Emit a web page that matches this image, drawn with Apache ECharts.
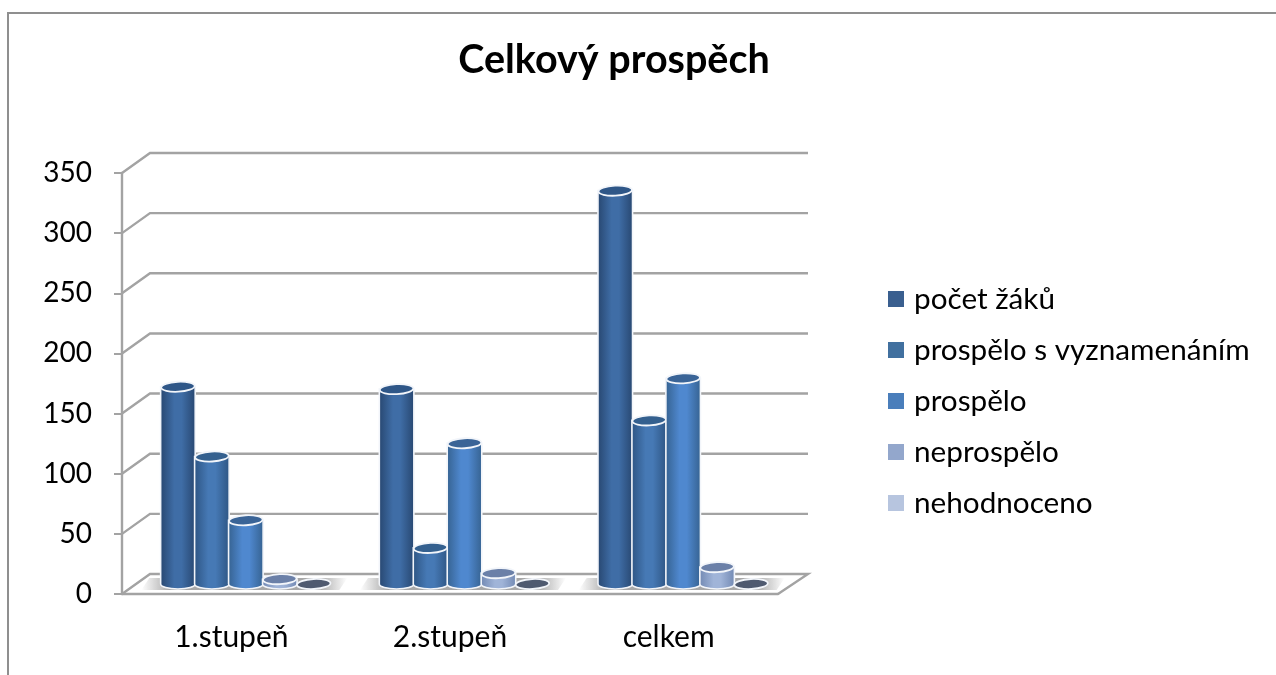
<!DOCTYPE html>
<html>
<head>
<meta charset="utf-8">
<script src="https://cdn.jsdelivr.net/npm/echarts@6/dist/echarts.min.js"></script>
<style>
  html, body { margin: 0; background: #fff; }
  #frame { position: absolute; left: 7px; top: 12px; width: 1276px; height: 700px; border-left: 2px solid #8f8f8f; border-top: 2px solid #8f8f8f; }
  #main { position: absolute; left: 0; top: 0; width: 1276px; height: 675px; }
</style>
</head>
<body>
<div id="frame"></div>
<div id="main"></div>
<script>
const categories = ['1.stupeň', '2.stupeň', 'celkem'];
const yTicks = [0, 50, 100, 150, 200, 250, 300, 350];
const seriesNames = ['počet žáků', 'prospělo s vyznamenáním', 'prospělo', 'neprospělo', 'nehodnoceno'];
const pocetZaku = [164, 162, 327];
const sVyznamenanim = [106, 30, 136];
const prospelo = [53, 117, 171];
const neprospelo = [4, 9, 14];
const nehodnoceno = [0, 0, 0];

const seriesValues = [pocetZaku, sVyznamenanim, prospelo, neprospelo, nehodnoceno];
// legend colour, body edge, body middle, top cap
const shades = [
  ['#3a5f8f', '#27466f', '#3f6da6', '#2f5788'],
  ['#41709f', '#2d5482', '#4679b5', '#34608f'],
  ['#4a7ebb', '#35618f', '#4f88cf', '#3a6497'],
  ['#93a7cc', '#7188b2', '#a0b4d8', '#6b80a8'],
  ['#b7c5df', '#8e9dbb', '#c3cfe5', '#4f5a70']
];
const depthX = 28;
const depthY = 20;
const gridColor = '#a3a3a3';

function renderWall(params, api) {
  const box = params.coordSys;
  const y = api.coord([0, api.value(1)])[1];
  const right = box.x + box.width;
  const points = [[box.x, y], [box.x + depthX, y - depthY], [right + depthX + 2, y - depthY]];
  if (api.value(1) === 0) points.push([right, y]);
  return {
    type: 'polyline',
    shape: { points },
    style: { stroke: gridColor, lineWidth: 2.4, fill: null }
  };
}

function renderShadow(params, api) {
  const p = api.coord([api.value(0), 0]);
  const x0 = p[0] - 90;
  const x1 = p[0] + 108;
  return {
    type: 'polygon',
    shape: { points: [[x0 + 8, p[1] - 16], [x1 + 8, p[1] - 16], [x1, p[1] - 4], [x0, p[1] - 4]] },
    style: {
      fill: new echarts.graphic.LinearGradient(0, 0, 1, 0, [
        { offset: 0, color: 'rgba(110,110,110,0)' },
        { offset: 0.14, color: 'rgba(110,110,110,0.6)' },
        { offset: 0.86, color: 'rgba(110,110,110,0.6)' },
        { offset: 1, color: 'rgba(110,110,110,0)' }
      ])
    }
  };
}

function makeCylinder(index) {
  return function (params, api) {
    const top = api.coord([api.value(0), api.value(1)]);
    const base = api.coord([api.value(0), 0]);
    const step = api.size([1, 0])[0] / 6.44;
    const cx = top[0] + depthX / 2 + (index - 2) * step + 0.5;
    const topY = top[1] - depthY / 2;
    const baseY = base[1] - depthY / 2;
    const rx = step / 2 + 0.3;
    const ry = 5;
    const c = shades[index];
    const children = [];
    if (baseY - topY > 0.5) {
      children.push({
        type: 'path',
        shape: {
          pathData: 'M' + (cx - rx) + ' ' + topY + 'L' + (cx - rx) + ' ' + baseY +
            'A' + rx + ' ' + ry + ' 0 0 0 ' + (cx + rx) + ' ' + baseY +
            'L' + (cx + rx) + ' ' + topY + 'Z',
          x: cx - rx, y: topY, width: rx * 2, height: baseY + ry - topY, layout: 'cover'
        },
        style: {
          fill: new echarts.graphic.LinearGradient(0, 0, 1, 0, [
            { offset: 0, color: c[1] },
            { offset: 0.4, color: c[2] },
            { offset: 0.6, color: c[2] },
            { offset: 1, color: c[1] }
          ]),
          stroke: '#f2f5fa',
          lineWidth: 1.6
        }
      });
    }
    children.push({
      type: 'ellipse',
      x: cx,
      y: topY,
      rotation: 0.05,
      shape: { cx: 0, cy: 0, rx: rx - 0.5, ry: ry },
      style: { fill: c[3], stroke: '#f2f5fa', lineWidth: 1.8 }
    });
    return { type: 'group', children };
  };
}

const chart = echarts.init(document.getElementById('main'));
const font = 'Lato';

chart.setOption({
  animation: false,
  title: {
    text: 'Celkový prospěch',
    left: 609,
    top: 35,
    textAlign: 'center',
    textStyle: { fontFamily: font, fontSize: 39.5, fontWeight: 'bold', color: '#000' }
  },
  legend: {
    orient: 'vertical',
    left: 883,
    top: 279,
    icon: 'rect',
    itemWidth: 16,
    itemHeight: 16,
    itemGap: 21,
    data: seriesNames,
    textStyle: { fontFamily: font, fontSize: 29.7, color: '#000', padding: [0, 0, 0, 5] }
  },
  grid: { left: 122, right: 498, top: 173, bottom: 81 },
  xAxis: {
    type: 'category',
    data: categories,
    axisLine: { lineStyle: { color: gridColor, width: 2.4 } },
    axisTick: { length: 8, lineStyle: { color: gridColor, width: 2 } },
    axisLabel: { fontFamily: font, fontSize: 30, color: '#000', margin: 28 }
  },
  yAxis: {
    type: 'value',
    min: 0,
    max: 350,
    interval: 50,
    axisLine: { show: true, lineStyle: { color: gridColor, width: 2.4 } },
    axisTick: { show: true, length: 8, lineStyle: { color: gridColor, width: 2 } },
    splitLine: { show: false },
    axisLabel: { fontFamily: font, fontSize: 28, color: '#000', margin: 30 }
  },
  series: [
    {
      type: 'custom',
      silent: true,
      clip: false,
      z: 1,
      encode: { x: 0, y: 1 },
      data: yTicks.map(v => [0, v]),
      renderItem: renderWall
    },
    {
      type: 'custom',
      silent: true,
      clip: false,
      z: 2,
      encode: { x: 0, y: 1 },
      data: categories.map((_, i) => [i, 0]),
      renderItem: renderShadow
    }
  ].concat(seriesNames.map((name, i) => ({
    name,
    type: 'custom',
    clip: false,
    z: 3 + i,
    itemStyle: { color: shades[i][0] },
    encode: { x: 0, y: 1 },
    data: seriesValues[i].map((v, c) => [c, v]),
    renderItem: makeCylinder(i)
  })))
});
</script>
</body>
</html>
